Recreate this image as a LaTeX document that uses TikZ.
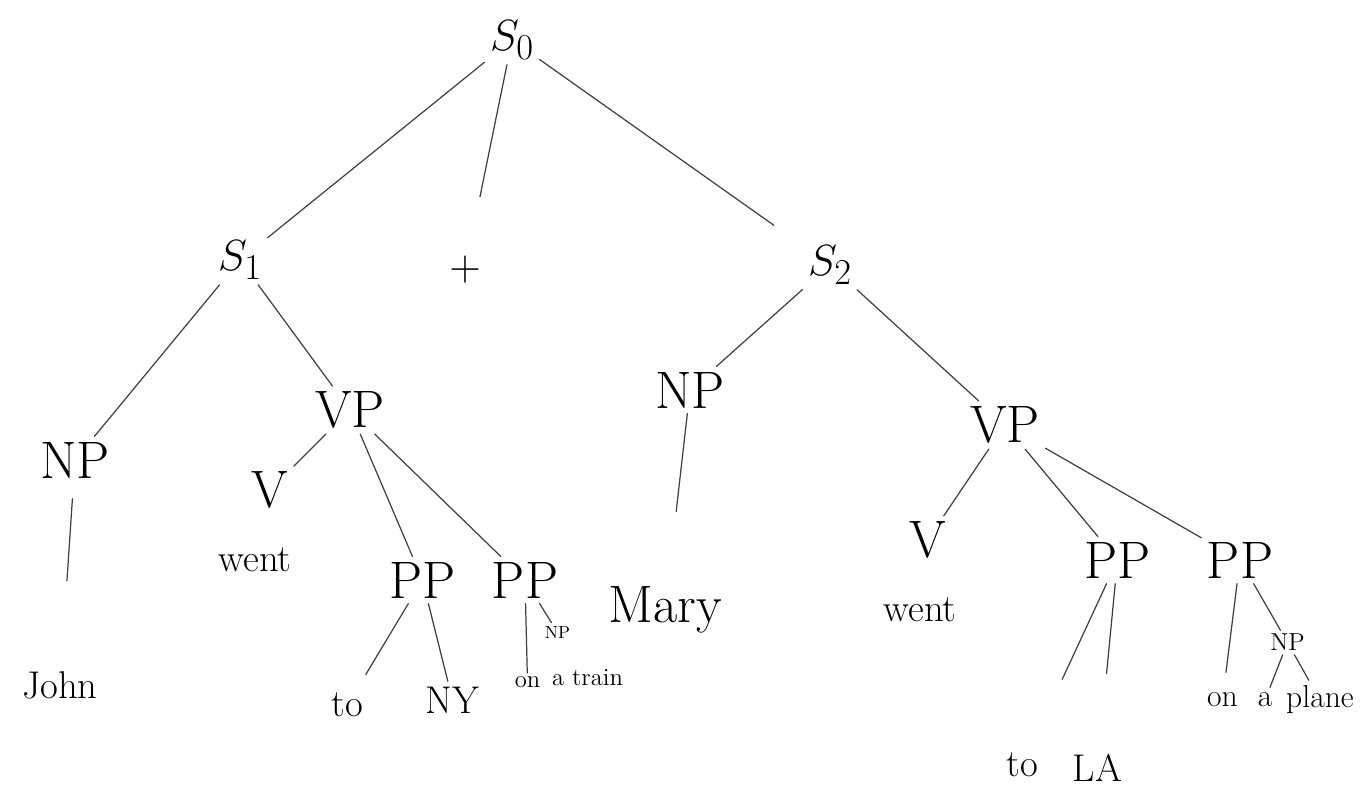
\documentclass[tikz,border=0pt]{standalone}
\usepackage{amsmath}
\usepackage{tikz}
\usetikzlibrary{positioning}

\tikzset{
	cat/.style={font=\fontsize{30}{30}\selectfont, inner sep=3pt},
	word/.style={font=\fontsize{22}{22}\selectfont, inner sep=3pt},
	small/.style={font=\fontsize{14}{14}\selectfont, inner sep=2pt},
	branch/.style={line width=0.7pt, draw=black!75},
	gap/.style={shorten >=#1}
}

\begin{document}
\begin{tikzpicture}[line cap=round, line join=round]
		\useasboundingbox (0,0) rectangle (27.42,-15.84);
		% root
		\node[cat] (s0) at (10.24,-0.8) {\(S_0\)};
		\node[cat] (plus) at (9.3,-5.4) {\(+\)};
		
		% left conjunct
		\node[cat] (s1) at (4.8,-5.2) {\(S_1\)};
		\node[cat] (np1) at (1.5,-9.2) {NP};
		\node[word] (john) at (1.2,-13.7) {John};
		\node[cat] (vp1) at (7.0,-8.2) {VP};
		\node[cat] (v1) at (5.4,-9.8) {V};
		\node[word] (went1) at (5.1,-11.2) {went};
		\node[cat] (ppny) at (8.45,-11.6) {PP};
		\node[word] (to1) at (6.95,-14.1) {to};
		\node[word] (ny) at (9.05,-14.0) {NY};
		\node[cat] (pptrain) at (10.5,-11.6) {PP};
		\node[small, font=\fontsize{10}{10}\selectfont] (nptrain) at (11.15,-12.65) {NP};
		\node[small] (on1) at (10.55,-13.65) {on};
		\node[small] (train) at (11.75,-13.55) {a train};
		
		% right conjunct
		\node[cat] (s2) at (16.6,-5.3) {\(S_2\)};
		\node[cat] (np2) at (13.8,-7.8) {NP};
		\node[word, font=\fontsize{30}{30}\selectfont] (mary) at (13.3,-12.2) {Mary};
		\node[cat] (vp2) at (20.1,-8.5) {VP};
		\node[cat] (v2) at (18.55,-10.8) {V};
		\node[word] (went2) at (18.4,-12.2) {went};
		\node[cat] (ppla) at (22.35,-11.2) {PP};
		\node[word] (to2) at (20.45,-15.3) {to};
		\node[word] (la) at (21.95,-15.35) {LA};
		\node[cat] (ppplane) at (24.8,-11.2) {PP};
		\node[small] (npplane) at (25.75,-12.85) {NP};
		\node[word, font=\fontsize{18}{18}\selectfont] (on2) at (24.45,-14.0) {on};
		\node[word, font=\fontsize{18}{18}\selectfont] (a2) at (25.3,-14.0) {a};
		\node[word, font=\fontsize{18}{18}\selectfont] (plane) at (26.4,-14.0) {plane};
		
		% branches, some stop short of their leaf
		\draw[branch] (s0) -- (s1);
		\draw[branch, gap=1.1cm] (s0) -- (plus);
		\draw[branch, gap=0.7cm] (s0) -- (s2);
		
		\draw[branch] (s1) -- (np1);
		\draw[branch] (s1) -- (vp1);
		\draw[branch, gap=1.7cm, shorten <=0.3cm] (np1) -- (john);
		\draw[branch] (vp1) -- (v1);
		\draw[branch] (vp1) -- (ppny);
		\draw[branch] (vp1) -- (pptrain);
		\draw[branch, gap=0.3cm] (ppny) -- (to1);
		\draw[branch] (ppny) -- (ny);
		\draw[branch] (pptrain) -- (nptrain);
		\draw[branch] (pptrain) -- (on1);
		
		\draw[branch] (s2) -- (np2);
		\draw[branch] (s2) -- (vp2);
		\draw[branch, gap=1.4cm] (np2) -- (mary);
		\draw[branch] (vp2) -- (v2);
		\draw[branch] (vp2) -- (ppla);
		\draw[branch] (vp2) -- (ppplane);
		\draw[branch, gap=1.5cm] (ppla) -- (to2);
		\draw[branch, gap=1.5cm] (ppla) -- (la);
		\draw[branch, gap=0.3cm] (ppplane) -- (on2);
		\draw[branch] (ppplane) -- (npplane);
		\draw[branch] (npplane) -- (a2);
		\draw[branch] (npplane) -- (plane);
	\end{tikzpicture}
\end{document}
